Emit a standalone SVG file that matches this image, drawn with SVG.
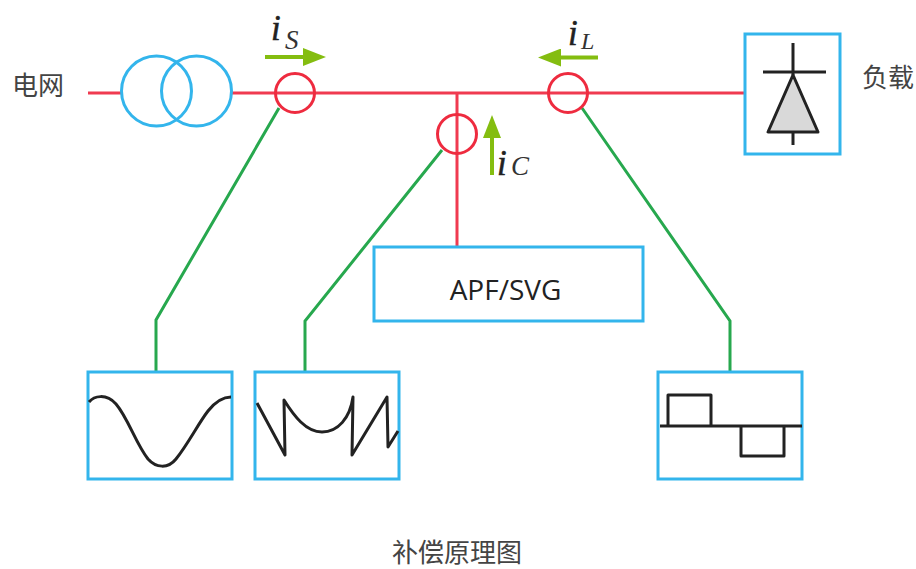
<svg xmlns="http://www.w3.org/2000/svg" width="916" height="569" viewBox="0 0 916 569">
<style>
.box{fill:#fff;stroke:#33b5ec;stroke-width:3}
.ring{fill:none;stroke:#33b5ec;stroke-width:3}
.sensor{fill:none;stroke:#ee2b3f;stroke-width:3}
.red{fill:none;stroke:#f03a50;stroke-width:3}
.green{fill:none;stroke:#27a84e;stroke-width:3}
.ink{fill:none;stroke:#222;stroke-width:3;stroke-linejoin:round}
.flow{fill:none;stroke:#84bd10;stroke-width:4;marker-end:url(#ah)}
.cjk{font-family:"Noto Sans CJK SC","Noto Sans",sans-serif;font-size:26px;fill:#444}
.mi{font-family:"Liberation Serif",serif;font-style:italic;fill:#222}
.i{font-size:35px;stroke:#222;stroke-width:.5}
.sub{font-size:27px;fill:#333}
</style>
<defs>
<marker id="ah" markerUnits="userSpaceOnUse" markerWidth="24" markerHeight="18" refX="0" refY="9" orient="auto" viewBox="0 0 24 18"><path d="M0 0L23 9L0 18Z" fill="#84bd10"/></marker>
</defs>
<rect width="916" height="569" fill="#fff"/>
<g id="connectors">
<path class="red" d="M88 93H121M232 93H745M457 93V246"/>
<path class="green" d="M279 108L156 320V372"/>
<path class="green" d="M442 150L305 321V372"/>
<path class="green" d="M582 108L730 321V372"/>
<path class="flow" d="M265 57H303"/>
<path class="flow" d="M598 57.500H561"/>
<path class="flow" d="M492 175V138"/>
</g>
<g id="grid-label"><text class="cjk" x="12" y="95">电网</text></g>
<g id="transformer">
<circle class="ring" cx="156.500" cy="91" r="35"/>
<circle class="ring" cx="196.500" cy="91" r="35"/>
</g>
<g id="sensor-s"><circle class="sensor" cx="295" cy="93" r="19.500"/></g>
<g id="sensor-c"><circle class="sensor" cx="457" cy="134" r="19.500"/></g>
<g id="sensor-l"><circle class="sensor" cx="568" cy="93" r="19.500"/></g>
<g id="label-is"><text class="mi i" x="271" y="40">i</text><text class="mi sub" x="285" y="49">S</text></g>
<g id="label-il"><text class="mi i" x="568" y="45">i</text><text class="mi sub" x="581" y="49" style="font-size:24px">L</text></g>
<g id="label-ic"><text class="mi i" x="497" y="175">i</text><text class="mi sub" x="511" y="175">C</text></g>
<g id="load">
<rect class="box" x="745" y="34" width="95" height="120"/>
<path class="ink" d="M763 72H826M793 43V75M793 132V145"/>
<path d="M793 75L768 132H818Z" fill="#d9d9d9" stroke="#222" stroke-width="3" stroke-linejoin="round"/>
</g>
<g id="load-label"><text class="cjk" x="862" y="87">负载</text></g>
<g id="apf">
<rect class="box" x="374" y="247" width="269" height="74"/>
<text x="505.500" y="300" text-anchor="middle" font-family="'Open Sans','Noto Sans',sans-serif" font-size="28" fill="#222">APF/SVG</text>
</g>
<g id="wave-source">
<rect class="box" x="88" y="372" width="144" height="107"/>
<path class="ink" d="M89 402C94 396 106 393 116 404C128 418 136 444 148 459C156 468 168 469 176 459C188 444 198 424 208 411C216 401 224 397 231 397"/>
</g>
<g id="wave-comp">
<rect class="box" x="255" y="372" width="144" height="107"/>
<path class="ink" d="M257 403L285 455L284 400C294 416 306 432 322 432C338 432 350 418 353 397L352 455L387 397L388 447L398 431"/>
</g>
<g id="wave-load">
<rect class="box" x="658" y="372" width="144" height="107"/>
<path class="ink" d="M660 426H802M668 426V395H711V426M741 426V456H784V426"/>
</g>
<g id="caption"><text class="cjk" x="392" y="562">补偿原理图</text></g>
</svg>
